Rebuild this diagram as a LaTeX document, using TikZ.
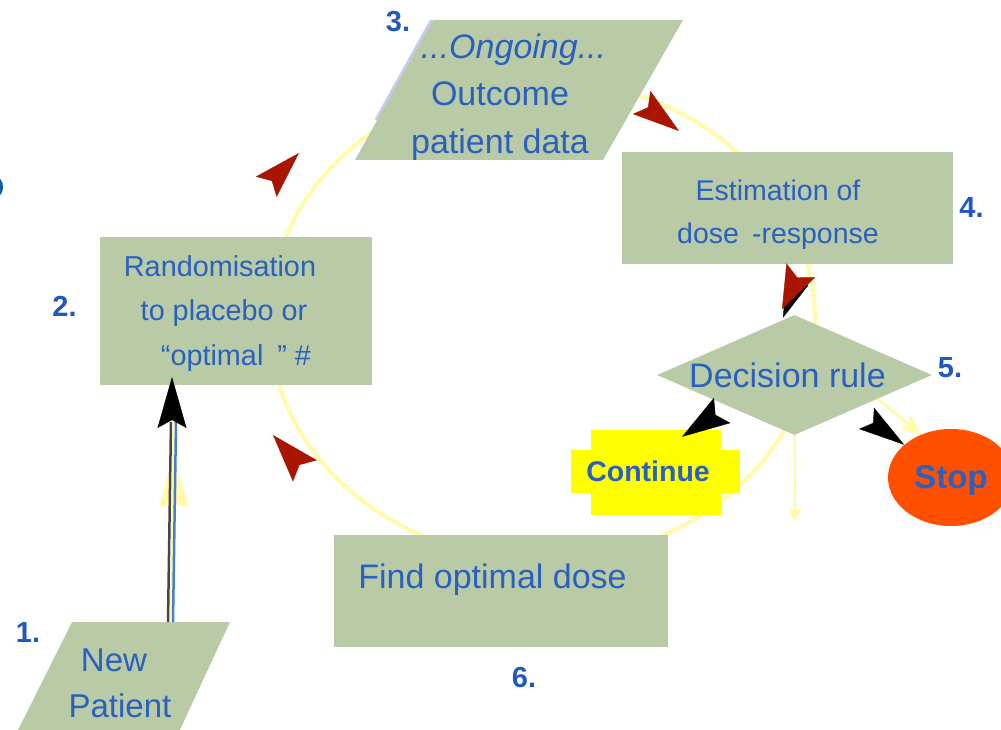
\documentclass[tikz,border=0pt]{standalone}
\usepackage{fontspec}
\setmainfont{Liberation Sans}
\usetikzlibrary{arrows.meta, positioning, shapes.geometric, calc}

\definecolor{boxgreen}{RGB}{184,203,166}
\definecolor{txtblue}{RGB}{42,96,192}
\definecolor{numblue}{RGB}{32,88,192}
\definecolor{tipred}{RGB}{170,21,0}
\definecolor{ringyellow}{RGB}{255,251,168}
\definecolor{edgelilac}{RGB}{200,200,242}
\definecolor{stoporange}{RGB}{255,80,0}
\definecolor{contyellow}{RGB}{255,255,0}
\definecolor{blobblue}{RGB}{20,92,168}
\definecolor{linegrey}{RGB}{70,70,70}
\definecolor{lineblue}{RGB}{70,125,215}

\begin{document}
\begin{tikzpicture}[
    x=1pt, y=-1pt,
    procbox/.style={rectangle, fill=boxgreen, text=txtblue, inner sep=0pt,
                    align=center},
    iotext/.style={text=txtblue, inner sep=0pt, align=center},
    numlabel/.style={text=numblue, inner sep=0pt,
                     font=\fontsize{29}{29}\selectfont\bfseries},
    ring/.style={draw=ringyellow, line width=4pt},
    redtip/.style 2 args={tipred, line width=0.4pt, shorten <=12pt,
                          -{Stealth[length=#1, width=#2, inset=8pt]}},
    blktip/.style 2 args={black, line width=0.4pt, shorten <=12pt,
                          -{Stealth[length=#1, width=#2, inset=8pt]}},
    yelarrow/.style 2 args={ringyellow, line width=2.5pt,
                          -{Stealth[length=#1, width=#2, inset=3pt]}},
]
\useasboundingbox (0,0) rectangle (1001,730);

% --- the cycle ---
\draw[ring] (542,320) ellipse [x radius=273, y radius=240];
\fill[blobblue] (-4,187) ellipse [x radius=7, y radius=10];

% --- 3: outcome data (parallelogram) ---
\draw[edgelilac, line width=3pt] (431.5,20) -- (376,120);
\fill[boxgreen] (433,20) -- (683,20) -- (603,160) -- (355,160) -- cycle;
\node[iotext, font=\fontsize{34}{47.5}\selectfont] (outcome) at (500,97)
    {\hspace*{27pt}\textit{...Ongoing...}\\ Outcome\\ patient data};

% --- 4: estimation ---
\node[procbox, minimum width=331pt, minimum height=112pt, text height=76pt,
      font=\fontsize{28.5}{43}\selectfont] (estim) at (787.5,208)
    {\hspace*{-19pt}Estimation of\\ \hspace*{-19pt}dose\hspace{13pt}-response};

% --- 5: decision ---
\node[diamond, fill=boxgreen, text=txtblue, inner sep=0pt, aspect=2.29,
      minimum width=275pt, minimum height=120pt,
      font=\fontsize{34}{34}\selectfont] (dec) at (794.5,375)
    {\hspace*{-14pt}Decision rule};

% --- continue / stop ---
\fill[contyellow] (591,430) rectangle (721,515);
\node[rectangle, fill=contyellow, text=txtblue, inner sep=0pt,
      minimum width=169pt, minimum height=43pt,
      font=\fontsize{28.5}{28.5}\selectfont\bfseries] (cont) at (655.5,471.5)
    {Continue\hspace*{15pt}};
\node[ellipse, fill=stoporange, text=txtblue, inner sep=0pt,
      minimum width=126pt, minimum height=97pt, text depth=2pt,
      font=\fontsize{33}{33}\selectfont\bfseries] (stop) at (951,477.5) {Stop};

% --- 6: optimal dose ---
\node[procbox, minimum width=334pt, minimum height=112pt, text depth=29pt,
      font=\fontsize{34}{34}\selectfont] (optdose) at (501,591)
    {Find optimal dose\hspace*{17pt}};

% --- 2: randomisation ---
\node[procbox, minimum width=272pt, minimum height=148pt, text height=114pt,
      font=\fontsize{28.8}{44.5}\selectfont] (rand) at (236,311)
    {\hspace*{-32pt}Randomisation\\ \hspace*{-24pt}to placebo or\\
     “optimal\hspace{14pt}” \#};

% --- 1: new patient (parallelogram) ---
\fill[boxgreen] (72,622) -- (230,622) -- (178,734) -- (16,734) -- cycle;
\node[iotext, font=\fontsize{33}{46}\selectfont] (np) at (117,683)
    {\hspace*{-6pt}New\\ \hspace*{6pt}Patient};

% --- step numbers ---
\node[numlabel] (n1) at (28,633) {1.};
\node[numlabel, left=23pt of rand, yshift=5pt] (n2) {2.};
\node[numlabel] (n3) at (398,22) {3.};
\node[numlabel, right=6pt of estim] (n4) {4.};
\node[numlabel] (n5) at (950,368) {5.};
\node[numlabel] (n6) at (524,678) {6.};

% --- new patient enters ---
\coordinate (npTop) at (171,622);
\coordinate (randIn) at (172,377);
\draw[yelarrow={52pt}{29pt}] ([xshift=2,yshift=-130]randIn)
    -- ([xshift=1,yshift=-78]randIn);
\draw[linegrey, line width=2.5pt] ([xshift=-3]npTop)
    -- ([xshift=-1,yshift=-45]randIn);
\draw[ringyellow, line width=2pt] (npTop) -- ([xshift=1.5,yshift=-45]randIn);
\draw[lineblue, line width=2.5pt] ([xshift=2]npTop)
    -- ([xshift=4,yshift=-45]randIn);
\draw[blktip={51pt}{29pt}] ([yshift=-51]randIn) -- (randIn);

% --- decision outcomes ---
\coordinate (decDown) at (795,522);
\draw[yelarrow={14pt}{13pt}] (dec.south) -- (decDown);
\draw[yelarrow={20pt}{17pt}] (dec.-16) -- (stop.125);
\draw[blktip={48pt}{30pt}] ([xshift=-3,yshift=-5]dec.south west)
    -- ([xshift=26.5,yshift=13]cont.north);
\draw[blktip={46pt}{26pt}] ([yshift=-11]dec.south east) -- (stop.145);
\draw[blktip={40pt}{24pt}] ([xshift=10,yshift=-16]estim.south)
    -- ([xshift=-11.5,yshift=-3]dec.north);

% --- arrowheads round the cycle ---
\draw[redtip={47pt}{29pt}] (266,187) -- (299,153);
\draw[redtip={47pt}{29pt}] (641,102) -- (679,131);
\draw[redtip={43pt}{32pt}] (801,270) -- (782,309);
\draw[redtip={48pt}{32pt}] (305,471) -- (273,435);

\end{tikzpicture}
\end{document}
